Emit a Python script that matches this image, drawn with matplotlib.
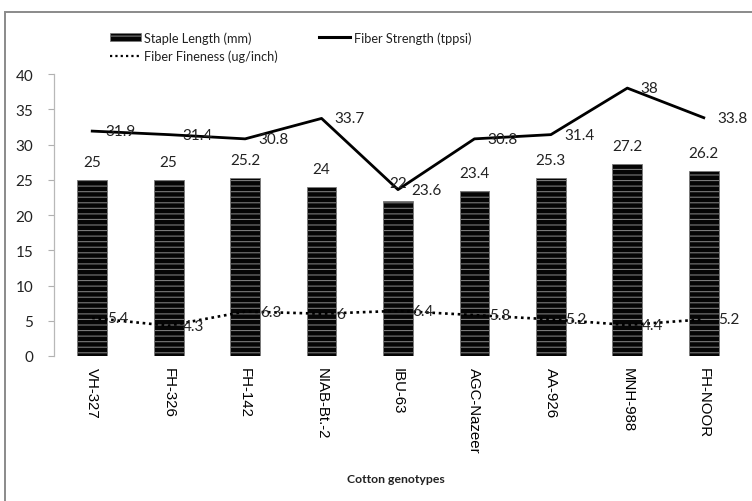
import matplotlib
matplotlib.use("Agg")
import matplotlib.pyplot as plt
from matplotlib.patches import Rectangle
from matplotlib.lines import Line2D

genotypes = ["VH-327", "FH-326", "FH-142", "NIAB-Bt.-2", "IBU-63",
             "AGC-Nazeer", "AA-926", "MNH-988", "FH-NOOR"]
staple_length = [25, 25, 25.2, 24, 22, 23.4, 25.3, 27.2, 26.2]
fiber_strength = [31.9, 31.4, 30.8, 33.7, 23.6, 30.8, 31.4, 38, 33.8]
fiber_fineness = [5.4, 4.3, 6.3, 6, 6.4, 5.8, 5.2, 4.4, 5.2]
y_ticks = [0, 5, 10, 15, 20, 25, 30, 35, 40]

W, H = 752, 502
plt.rcParams['hatch.linewidth'] = 0.8
fig = plt.figure(figsize=(W / 100, H / 100), dpi=100)
fig.patch.set_facecolor("white")

ax = fig.add_axes([54 / W, 1 - 357 / H, (742 - 54) / W, (357 - 75) / H])
x = list(range(len(genotypes)))

DOT = (0, (1, 1.4))
bars = ax.bar(x, staple_length, width=0.39, color="#050505",
              edgecolor="#7a7a7a", linewidth=0.6, hatch="---", zorder=2)
l_str, = ax.plot(x, fiber_strength, color="black", lw=2.0, zorder=3)
l_fin, = ax.plot(x, fiber_fineness, color="black", lw=1.9,
                 linestyle=DOT, zorder=3)

lab_font = dict(family="Lato", size=11, color="#222222")
for xi, v in zip(x, staple_length):
    ax.annotate(f"{v:g}", (xi, v), xytext=(0, 13), textcoords="offset points",
                ha="center", va="center", zorder=4, **lab_font)
for xi, v in zip(x, fiber_strength):
    ax.annotate(f"{v:g}", (xi, v), xytext=(9.5, 0), textcoords="offset points",
                ha="left", va="center", zorder=4, **lab_font)
for xi, v in zip(x, fiber_fineness):
    ax.annotate(f"{v:g}", (xi, v), xytext=(10.5, 0), textcoords="offset points",
                ha="left", va="center", zorder=4, **lab_font)

ax.set_xlim(-0.5, len(genotypes) - 0.5)
ax.set_ylim(0, 40)
ax.set_yticks(y_ticks)
ax.set_yticklabels([str(t) for t in y_ticks], family="Lato", fontsize=11,
                   color="#222222")
ax.set_xticks(x)
ax.set_xticklabels(genotypes, rotation=270, family="Liberation Sans",
                   fontsize=10.8, color="#000000", va="top", ha="center")
ax.tick_params(axis="x", length=0, pad=8)
ax.tick_params(axis="y", length=4, width=0.8, color="#b0b0b0", pad=11)
for s in ["top", "right", "bottom"]:
    ax.spines[s].set_visible(False)
ax.spines["left"].set_color("#b8b8b8")
ax.spines["left"].set_linewidth(0.9)
ax.set_facecolor("none")

fig.text(396 / W, 1 - 480 / H, "Cotton genotypes", ha="center", va="center",
         family="Lato", fontsize=8.8, fontweight="bold", color="#222222")

handles = [Rectangle((0, 0), 1, 1, facecolor="#050505", edgecolor="#7a7a7a",
                     hatch="---", linewidth=0.5),
           Line2D([], [], color="black", lw=1.6, linestyle=DOT),
           Line2D([], [], color="black", lw=2.2)]
labels = ["Staple Length (mm)", "Fiber Fineness (ug/inch)", "Fiber Strength (tppsi)"]
leg = fig.legend(handles, labels, ncol=2, loc="upper left",
                 bbox_to_anchor=(110 / W, 1 - 32 / H), frameon=False,
                 borderaxespad=0, borderpad=0, handlelength=2.45,
                 handleheight=0.55, handletextpad=0.25, columnspacing=3.2,
                 labelspacing=0.5, prop=dict(family="Lato", size=9.2))
for t in leg.get_texts():
    t.set_color("#222222")

fig.add_artist(Rectangle((5 / W, -0.05), 1.05, 1 - 13 / H + 0.05,
                         transform=fig.transFigure, fill=False,
                         edgecolor="#8a8a8a", linewidth=1.4))

fig.savefig("out.png", dpi=100)
